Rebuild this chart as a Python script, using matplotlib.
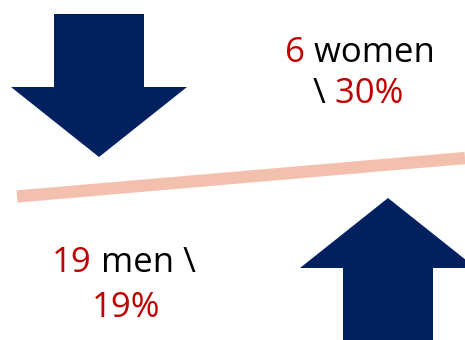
import matplotlib
matplotlib.use('Agg')
import matplotlib.pyplot as plt
from matplotlib.patches import FancyArrow

# ================= Data =================
groups = ['women', 'men']
counts = [6, 19]
shares = [30, 19]  # percent

NAVY = '#002060'
RED = '#C00000'
SALMON = '#F4C0AE'
FONT = 'Open Sans'
FS = 25

fig = plt.figure(figsize=(4.65, 3.4), dpi=100)
ax = fig.add_axes([0, 0, 1, 1])
ax.set_xlim(0, 465)
ax.set_ylim(340, 0)
ax.axis('off')


def rich(x, y, parts):
    # draw a line of text made of differently coloured pieces, baseline-aligned
    t = ax.text(x, y, parts[0][0], color=parts[0][1], fontsize=FS,
                fontfamily=FONT, ha='left', va='baseline')
    for s, c in parts[1:]:
        t = ax.annotate(s, xy=(1, 0), xycoords=t, color=c, fontsize=FS,
                        fontfamily=FONT, ha='left', va='bottom')
    return t


# decreasing arrow (women) and increasing arrow (men)
ax.add_patch(FancyArrow(99, 14, 0, 143, width=90, head_width=176, head_length=70,
                        length_includes_head=True, color=NAVY, lw=0))
ax.add_patch(FancyArrow(388, 345, 0, -147, width=90, head_width=176, head_length=70,
                        length_includes_head=True, color=NAVY, lw=0))

# tilted balance line
ax.plot([17, 465], [196.5, 158], color=SALMON, lw=8.8, solid_capstyle='butt')

# labels
rich(285, 62, [(str(counts[0]), RED), (' ' + groups[0], 'black')])
rich(313, 103, [('\\', 'black'), (' %d%%' % shares[0], RED)])
rich(52, 272, [(str(counts[1]), RED), (' ' + groups[1] + ' \\', 'black')])
rich(92, 317, [('%d%%' % shares[1], RED)])

fig.savefig('out.png', dpi=100)
